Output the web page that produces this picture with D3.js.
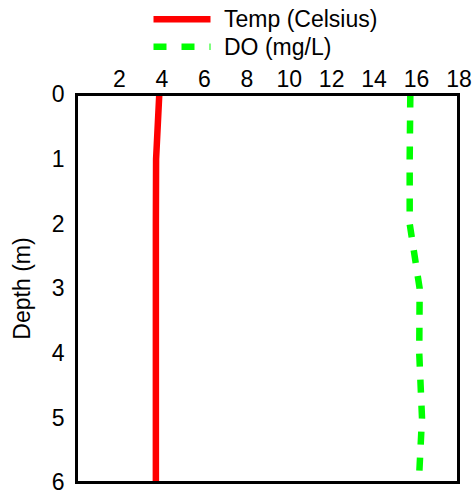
<!DOCTYPE html>
<html>
<head>
<meta charset="utf-8">
<script src="https://cdn.jsdelivr.net/npm/d3@7"></script>
<style>
  html, body { margin: 0; padding: 0; background: #fff; }
  svg { display: block; font-family: Arial, "Liberation Sans", sans-serif; }
</style>
</head>
<body>
<svg id="chart" width="476" height="493"></svg>
<script>
const depths = [0, 1, 2, 3, 4, 5, 6];
const tempValues = [3.9, 3.75, 3.74, 3.74, 3.74, 3.74, 3.74];
const doValues = [15.73, 15.7, 15.7, 16.17, 16.15, 16.28, 16.13];
const xTicks = [2, 4, 6, 8, 10, 12, 14, 16, 18];
const yTicks = [0, 1, 2, 3, 4, 5, 6];
const seriesNames = ["Temp (Celsius)", "DO (mg/L)"];
const seriesColors = ["#ff0000", "#00ff00"];

const svg = d3.select("#chart");
const mLeft = 76.5, mRight = 458.5, mTop = 94.5, mBottom = 482.5;
const fs = 23;

const x = d3.scaleLinear().domain([0, 18]).range([mLeft, mRight]);
const y = d3.scaleLinear().domain([0, 6]).range([mTop, mBottom]);

// series lines
const line = (vals) => d3.line()
  .x((d, i) => x(vals[i]))
  .y(d => y(d))(depths);

svg.append("path")
  .attr("d", line(tempValues))
  .attr("fill", "none")
  .attr("stroke", seriesColors[0])
  .attr("stroke-width", 6.5);

svg.append("path")
  .attr("d", line(doValues))
  .attr("fill", "none")
  .attr("stroke", seriesColors[1])
  .attr("stroke-width", 6.5)
  .attr("stroke-dasharray", "13,13");

// frame
svg.append("rect")
  .attr("x", mLeft).attr("y", mTop)
  .attr("width", mRight - mLeft).attr("height", mBottom - mTop)
  .attr("fill", "none")
  .attr("stroke", "#000")
  .attr("stroke-width", 3);

// x axis (top)
const xAxis = d3.axisTop(x).tickValues(xTicks).tickSize(0).tickPadding(8).tickFormat(d3.format("d"));
const gx = svg.append("g").attr("transform", `translate(0,${mTop})`).call(xAxis);
gx.select(".domain").remove();
gx.selectAll("text").attr("font-size", fs).attr("fill", "#000").attr("font-family", "Arial, 'Liberation Sans', sans-serif");

// y axis
const yAxis = d3.axisLeft(y).tickValues(yTicks).tickSize(0).tickPadding(12).tickFormat(d3.format("d"));
const gy = svg.append("g").attr("transform", `translate(${mLeft},0)`).call(yAxis);
gy.select(".domain").remove();
gy.selectAll("text").attr("font-size", fs).attr("fill", "#000").attr("font-family", "Arial, 'Liberation Sans', sans-serif");

// y label
svg.append("text")
  .attr("transform", `translate(30,${(mTop + mBottom) / 2}) rotate(-90)`)
  .attr("text-anchor", "middle")
  .attr("font-size", fs)
  .attr("fill", "#000")
  .text("Depth (m)");

// legend
const legend = svg.append("g");
const legY = [19.3, 46.7];
seriesNames.forEach((name, i) => {
  legend.append("line")
    .attr("x1", 153.5).attr("x2", 210.5)
    .attr("y1", legY[i]).attr("y2", legY[i])
    .attr("stroke", seriesColors[i])
    .attr("stroke-width", 6.5)
    .attr("stroke-dasharray", i === 1 ? "13,15" : null);
  legend.append("text")
    .attr("x", 224).attr("y", legY[i] + 8)
    .attr("font-size", fs)
    .attr("fill", "#000")
    .text(name);
});
</script>
</body>
</html>
